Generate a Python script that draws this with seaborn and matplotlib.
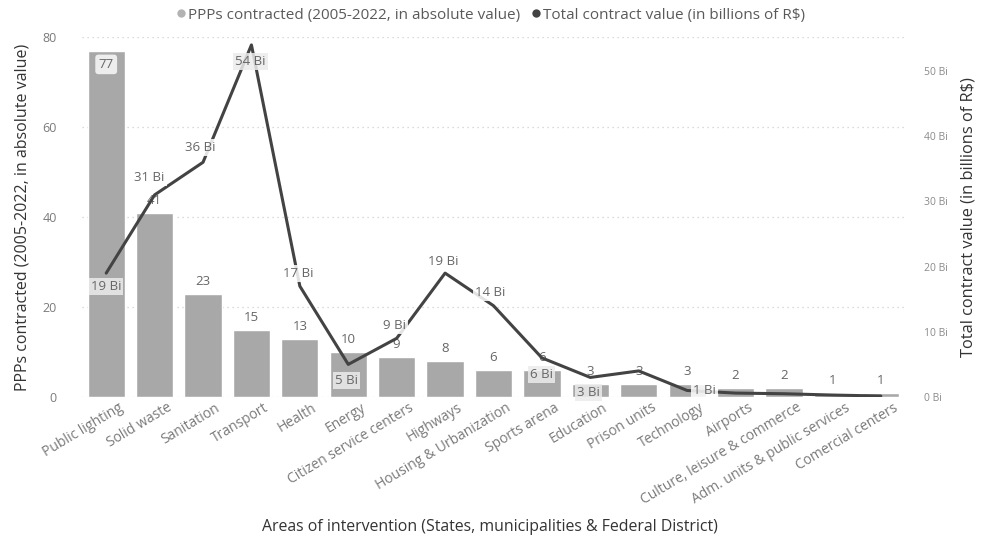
import matplotlib
matplotlib.use("Agg")
import matplotlib.pyplot as plt
from matplotlib.lines import Line2D
from matplotlib.transforms import ScaledTranslation
import numpy as np
import pandas as pd
import seaborn as sns

# Areas of intervention and their figures
categories = [
    "Public lighting", "Solid waste", "Sanitation", "Transport", "Health",
    "Energy", "Citizen service centers", "Highways", "Housing & Urbanization",
    "Sports arena", "Education", "Prison units", "Technology", "Airports",
    "Culture, leisure & commerce", "Adm. units & public services",
    "Comercial centers",
]
ppp_counts = [77, 41, 23, 15, 13, 10, 9, 8, 6, 6, 3, 3, 3, 2, 2, 1, 1]
contract_value_bi = [19, 31, 36, 54, 17, 5, 9, 19, 14, 6, 3, 4, 1, 0.6, 0.5, 0.3, 0.15]
# which contract values carry a data label
value_labelled = [True, True, True, True, True, True, True, True, True, True,
                  True, False, True, False, False, False, False]

left_ticks = [0, 20, 40, 60, 80]
right_ticks = [0, 10, 20, 30, 40, 50]

df = pd.DataFrame({"area": categories, "ppps": ppp_counts, "value": contract_value_bi})

sns.set_theme(style="white")
plt.rcParams["font.family"] = ["Open Sans", "DejaVu Sans"]

BAR = "#a8a8a8"
LINE = "#434343"
TICK = "#7a7a7a"
LABEL = "#666666"

fig = plt.figure(figsize=(9.83, 5.44), dpi=100)
ax = fig.add_axes([82 / 983, 1 - 397 / 544, 823 / 983, 360 / 544])

sns.barplot(data=df, x="area", y="ppps", color=BAR, saturation=1, width=0.77, ax=ax, zorder=2)
ax.set_ylim(0, 80)
ax.set_xlim(-0.5, len(categories) - 0.5)
ax.set_yticks(left_ticks)
ax.set_yticklabels([str(t) for t in left_ticks], fontsize=9, color=TICK)
ax.tick_params(axis="y", length=0, pad=18)
ax.tick_params(axis="x", length=0, pad=7)
ax.set_xticks(range(len(categories)))
ax.set_xticklabels(categories, rotation=31, ha="right", va="center",
                   rotation_mode="anchor", fontsize=10, color=TICK)
shift = ScaledTranslation(16 / 100, 0, fig.dpi_scale_trans)
for lbl in ax.get_xticklabels():
    lbl.set_transform(lbl.get_transform() + shift)
ax.yaxis.grid(True, linestyle=(0, (1, 3)), color="#cfcfcf", linewidth=0.9)
ax.set_axisbelow(True)
for s in ax.spines.values():
    s.set_visible(False)
ax.set_ylabel("PPPs contracted (2005-2022, in absolute value)", fontsize=11.5,
              color="#333333", labelpad=9)
ax.set_xlabel("")
fig.text(490 / 983, 1 - 527 / 544,
         "Areas of intervention (States, municipalities & Federal District)",
         ha="center", va="center", fontsize=11.4, color="#333333")

# bar value labels
for i, v in enumerate(ppp_counts):
    if i == 0:
        ax.annotate(f"{v}", (i, v), xytext=(0, -10), textcoords="offset points",
                    ha="center", va="center", fontsize=9.5, color=LABEL, zorder=5,
                    bbox=dict(boxstyle="round,pad=0.25", fc="#ededed", ec="none"))
    else:
        ax.annotate(f"{v}", (i, v), xytext=(0, 4), textcoords="offset points",
                    ha="center", va="bottom", fontsize=9.5, color=LABEL, zorder=5)

ax2 = ax.twinx()
sns.lineplot(x=list(range(len(categories))), y=contract_value_bi, ax=ax2,
             color=LINE, linewidth=2.2, zorder=3)
ax2.set_ylim(0, 80 * 90 / 20 / 6.52)
ax2.set_yticks(right_ticks)
ax2.set_yticklabels([f"{t} Bi" for t in right_ticks], fontsize=7.5, color="#8a8a8a")
ax2.tick_params(axis="y", length=0, pad=14)
for s in ax2.spines.values():
    s.set_visible(False)
ax2.set_ylabel("Total contract value (in billions of R$)", fontsize=11.8,
               color="#333333", labelpad=9)

# label offsets (pixels) for the contract value labels
px = 0.72
offsets = {0: (0, -13), 1: (-5, 17), 2: (-3, 15), 3: (-1, -17), 4: (-2, 13),
           5: (-2, -16), 6: (-2, 13), 7: (-2, 12), 8: (-3, 13), 9: (0, -17),
           10: (-2, -15), 12: (17, 0)}
for i, v in enumerate(contract_value_bi):
    if not value_labelled[i]:
        continue
    dx, dy = offsets.get(i, (0, 13))
    below = dy < 0
    ax2.annotate(f"{v:.0f} Bi", (i, v), xytext=(dx * px, dy * px),
                 textcoords="offset points", ha="center", va="center",
                 fontsize=9.5, color=LABEL, zorder=6,
                 bbox=dict(boxstyle="square,pad=0.15",
                           fc="#ececec" if below else "white",
                           ec="none", alpha=0.85))

handles = [
    Line2D([], [], marker="o", linestyle="none", markersize=6,
           markerfacecolor="#b3b3b3", markeredgecolor="none"),
    Line2D([], [], marker="o", linestyle="none", markersize=6,
           markerfacecolor=LINE, markeredgecolor="none"),
]
fig.legend(handles, ["PPPs contracted (2005-2022, in absolute value)",
                     "Total contract value (in billions of R$)"],
           loc="center", bbox_to_anchor=(490 / 983, 1 - 15 / 544), ncol=2,
           frameon=False, fontsize=11, labelcolor="#5a5a5a",
           handletextpad=0.05, columnspacing=0.6, handlelength=0.8)

fig.savefig("out.png", dpi=100, facecolor="white")
